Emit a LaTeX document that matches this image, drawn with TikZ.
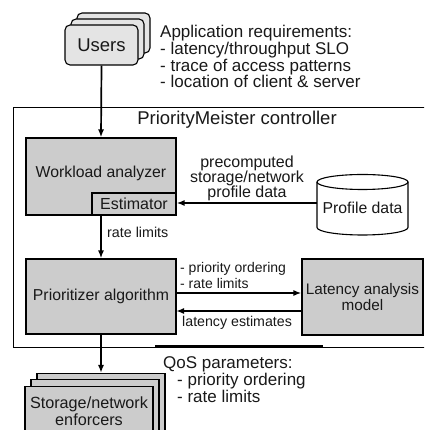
\documentclass[tikz,border=0pt]{standalone}
\usepackage{fontspec}
\setmainfont{Liberation Sans}
\usetikzlibrary{arrows.meta}
\definecolor{boxgray}{RGB}{204,204,204}
\definecolor{ugray}{RGB}{228,228,228}
\definecolor{ink}{RGB}{25,25,25}
\begin{document}
\begin{tikzpicture}[x=1pt,y=1pt,
  box/.style={draw=black, line width=1.1pt, fill=boxgray, inner sep=0pt},
  ubox/.style={draw=black, line width=1.1pt, fill=ugray, rounded corners=5pt, inner sep=0pt},
  txt/.style={inner sep=0pt, text=ink, align=center},
  ltxt/.style={inner sep=0pt, text=ink, align=left},
  arr/.style={line width=1.7pt, -{Latex[length=8pt,width=6pt]}}]
\clip (0,0) rectangle (424,430);
\fill[white] (0,0) rectangle (424,430);

% controller frame
\draw[line width=0.9pt] (13,83) rectangle (440,323);
\draw[line width=1.8pt] (155,84) -- (323,84);
\node[txt, font=\fontsize{18.5}{20}\selectfont] (ctitle) at (237,310) {PriorityMeister controller};

% Users stack
\node[ubox, minimum width=73pt, minimum height=40pt] (users3) at (113.5,397) {};
\node[ubox, minimum width=73pt, minimum height=40pt] (users2) at (107.5,391) {};
\node[ubox, minimum width=73pt, minimum height=40pt, text=ink, font=\fontsize{18.5}{20}\selectfont] (users) at (101.5,385) {Users};

\node[ltxt, anchor=west, font=\fontsize{17}{16.7}\selectfont] (appreq) at (160,373.3)
  {Application requirements:\\- latency/throughput SLO\\- trace of access patterns\\- location of client \& server};

% Workload analyzer
\node[box, minimum width=150pt, minimum height=77pt] (wa) at (101,253.5) {};
\node[txt, font=\fontsize{15.8}{17}\selectfont] (watxt) at (101,257) {Workload analyzer};
\node[box, minimum width=84pt, minimum height=22pt, text=ink, font=\fontsize{16}{17}\selectfont] (est) at (134,226) {Estimator};

% Profile data cylinder
\fill[white] (317,202.5) -- (317,248) arc[start angle=180,end angle=360,x radius=45.5,y radius=7.5] -- (408,202.5) arc[start angle=0,end angle=-180,x radius=45.5,y radius=7.5] -- cycle;
\draw[line width=1.1pt] (317,248) -- (317,202.5) arc[start angle=180,end angle=360,x radius=45.5,y radius=7.5] -- (408,248);
\draw[line width=1.1pt] (362.5,248) ellipse[x radius=45.5,y radius=7.5];
\node[txt, font=\fontsize{15.8}{17}\selectfont] (pd) at (362.5,222) {Profile data};
\coordinate (pdin) at (317,227);

\node[txt, font=\fontsize{16}{15}\selectfont] (precomp) at (247,252)
  {precomputed\\storage/network\\profile data};
\draw[arr] (pdin) -- (pdin -| est.east);

% Users -> Workload analyzer
\draw[arr] (users.south) -- (wa.north);

% Prioritizer
\node[box, minimum width=150pt, minimum height=75pt, text=ink, font=\fontsize{15.8}{17}\selectfont] (pa) at (101,133.5) {Prioritizer algorithm};
\draw[arr] (wa.south) -- (pa.north);
\node[ltxt, anchor=west, font=\fontsize{14.3}{16}\selectfont] (rl) at (107,198) {rate limits};

% Latency analysis model
\node[box, minimum width=121pt, minimum height=76pt, text=ink, align=center, font=\fontsize{15.3}{15.5}\selectfont] (la) at (362.5,133) {Latency analysis\\model};

\coordinate (pr) at (176,137);
\coordinate (pl) at (176,119);
\draw[arr] (pr) -- (pr -| la.west);
\draw[arr] (pl -| la.west) -- (pl);
\node[ltxt, anchor=west, font=\fontsize{14}{16}\selectfont] (prl) at (180,155) {- priority ordering\\- rate limits};
\node[ltxt, anchor=west, font=\fontsize{14.2}{16}\selectfont] (le) at (182,107) {latency estimates};

% Enforcers stack
\node[box, minimum width=128pt, minimum height=64pt, anchor=north] (enf3) at (101,57) {};
\node[box, minimum width=128pt, minimum height=58pt, anchor=north] (enf2) at (95,51) {};
\node[box, minimum width=128pt, minimum height=52pt, anchor=north] (enf) at (89,44) {};
\node[txt, font=\fontsize{16.2}{17}\selectfont] (enftxt) at (89,18.5) {Storage/network\\enforcers};
\draw[arr] (pa.south) -- (enf3.north);

\node[ltxt, anchor=west, font=\fontsize{17}{16.7}\selectfont] (qos) at (163,50.5)
  {QoS parameters:\\\hspace*{14pt}- priority ordering\\\hspace*{14pt}- rate limits};
\end{tikzpicture}
\end{document}
